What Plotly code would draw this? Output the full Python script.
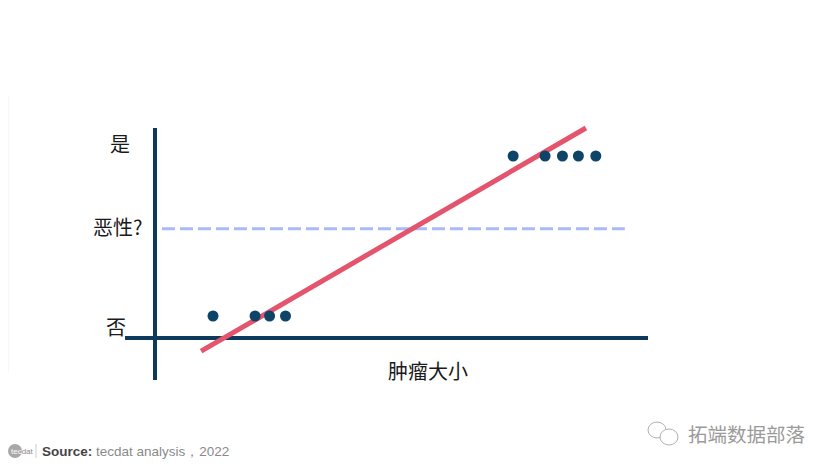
import plotly.graph_objects as go

# ---- data ----
size_benign = [2.0, 3.45, 3.95, 4.5]
label_benign = [0, 0, 0, 0]
size_malignant = [12.35, 13.45, 14.05, 14.6, 15.2]
label_malignant = [1, 1, 1, 1, 1]
fit_x = [1.59, 14.86]
fit_y = [-0.22, 1.175]
threshold_x = [0.24, 16.2]
threshold_y = [0.545, 0.545]
y_labels = ["是", "恶性?", "否"]
y_label_pos = [1.08, 0.56, -0.065]
x_title = "肿瘤大小"

OFF = 8  # page body margin
W, H = 831 - OFF, 468 - OFF
X0_PX, X_SCALE = 155, 29.0
Y0_PX, Y_SCALE = 316, 160.0

def px2x(p):
    return (p - X0_PX) / X_SCALE

def px2y(p):
    return (Y0_PX - p) / Y_SCALE

def pxp(p):  # screen x -> paper
    return (p - OFF) / W

def pyp(p):  # screen y -> paper
    return 1 - (p - OFF) / H

fig = go.Figure()

fig.add_trace(go.Scatter(x=threshold_x, y=threshold_y, mode="lines",
                         line=dict(color="#a9bbf6", width=3, dash="13px,5px"),
                         hoverinfo="skip", showlegend=False))
fig.add_trace(go.Scatter(x=fit_x, y=fit_y, mode="lines",
                         line=dict(color="#e4546c", width=5),
                         hoverinfo="skip", showlegend=False))
fig.add_trace(go.Scatter(x=size_benign + size_malignant,
                         y=label_benign + label_malignant, mode="markers",
                         marker=dict(color="#0e4468", size=11),
                         showlegend=False))

navy = "#0d3a5c"
fig.add_shape(type="line", x0=px2x(125), x1=px2x(648), y0=px2y(338), y1=px2y(338),
              line=dict(color=navy, width=4), layer="below")
fig.add_shape(type="line", x0=0, x1=0, y0=px2y(128), y1=px2y(380),
              line=dict(color=navy, width=4), layer="below")
fig.add_shape(type="line", xref="paper", yref="paper", x0=0, x1=0,
              y0=pyp(95), y1=pyp(372), line=dict(color="#f0f0f0", width=1))

label_right_px = [132, 144, 128]
ann = []
for t, yv, rx in zip(y_labels, y_label_pos, label_right_px):
    ann.append(dict(x=px2x(rx), y=yv, text=t, showarrow=False, xanchor="right",
                    yanchor="middle", font=dict(size=20, color="#1a1a1a",
                                                family="Noto Sans CJK SC")))
ann.append(dict(x=px2x(428), y=px2y(370), text=x_title, showarrow=False,
                xanchor="center", yanchor="middle",
                font=dict(size=20, color="#1a1a1a", family="Noto Sans CJK SC")))

# footer
fig.add_shape(type="circle", xref="paper", yref="paper",
              x0=pxp(8), x1=pxp(22), y0=pyp(458), y1=pyp(444),
              fillcolor="#a8a8a8", line=dict(width=0), layer="below")
ann.append(dict(xref="paper", yref="paper", x=pxp(9), y=pyp(451),
                text="<span style='color:white'>tec</span>dat",
                showarrow=False, xanchor="left", yanchor="middle",
                font=dict(size=8, color="#8a8a8a", family="Liberation Sans")))
fig.add_shape(type="line", xref="paper", yref="paper", x0=pxp(36), x1=pxp(36),
              y0=pyp(444), y1=pyp(458), line=dict(color="#cccccc", width=1))
ann.append(dict(xref="paper", yref="paper", x=pxp(40), y=pyp(451),
                text="<b>Source:</b> <span style='color:#8a8a8a'>tecdat analysis，2022</span>",
                showarrow=False, xanchor="left", yanchor="middle",
                font=dict(size=13.5, color="#444444", family="Liberation Sans")))

# watermark
ann.append(dict(xref="paper", yref="paper", x=pxp(686), y=pyp(433), text="拓端数据部落",
                showarrow=False, xanchor="left", yanchor="middle",
                font=dict(size=19.5, color="#9a9a9a", family="Noto Sans CJK SC")))
fig.add_shape(type="circle", xref="paper", yref="paper",
              x0=pxp(648), x1=pxp(666), y0=pyp(438), y1=pyp(422),
              fillcolor="white", line=dict(color="#b0b0b0", width=1))
fig.add_shape(type="circle", xref="paper", yref="paper",
              x0=pxp(660), x1=pxp(678), y0=pyp(445), y1=pyp(429),
              fillcolor="white", line=dict(color="#b0b0b0", width=1))

fig.update_layout(
    width=W, height=H, margin=dict(l=0, r=0, t=0, b=0),
    paper_bgcolor="white", plot_bgcolor="white",
    xaxis=dict(range=[px2x(OFF), px2x(OFF + W)], visible=False, fixedrange=True),
    yaxis=dict(range=[px2y(OFF + H), px2y(OFF)], visible=False, fixedrange=True),
    annotations=ann, showlegend=False,
)

fig.write_html("out.html")
